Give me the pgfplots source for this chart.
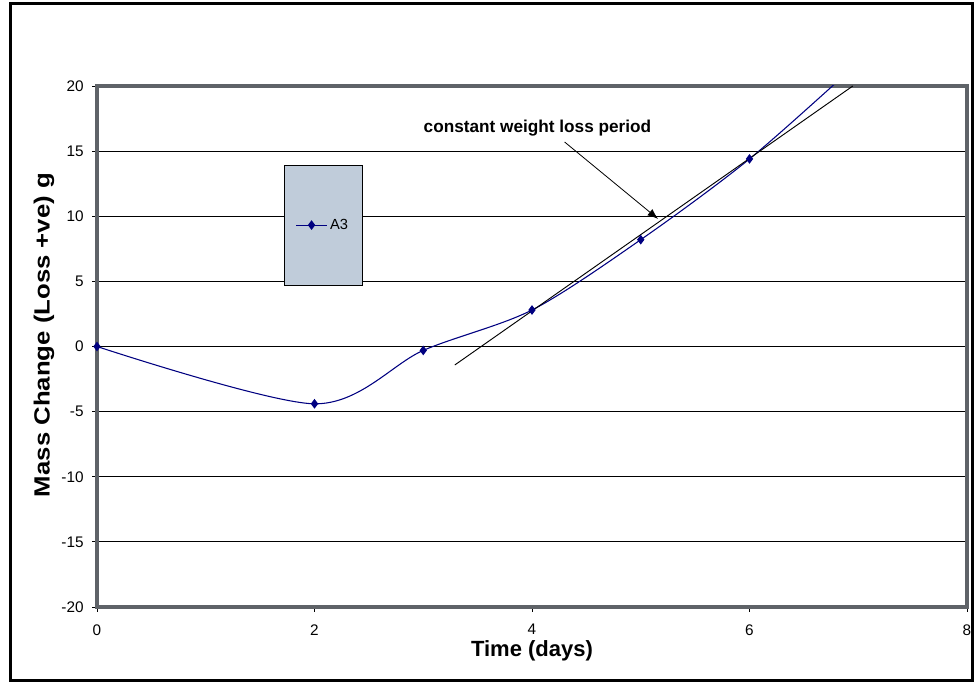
\documentclass[border=0pt]{standalone}
\usepackage{graphicx}
\usepackage{fontspec}
\setmainfont{Liberation Sans}
\usepackage{pgfplots}
\pgfplotsset{compat=1.18}
\usetikzlibrary{arrows.meta}
\definecolor{axgray}{RGB}{95,99,104}
\definecolor{navyline}{RGB}{0,0,128}
\definecolor{legfill}{RGB}{192,204,218}
\begin{document}
\begin{tikzpicture}
\useasboundingbox (0pt,0pt) rectangle (730.5pt,513pt);
\draw[line width=2.25pt] (7.5pt,2.25pt) rectangle (729pt,510pt);
\begin{axis}[
  at={(72.75pt,57.75pt)}, anchor=south west,
  scale only axis, width=652.5pt, height=390.75pt,
  xmin=0, xmax=8, ymin=-20, ymax=20,
  xtick={0,2,4,6,8}, ytick={-20,-15,...,20},
  xtick pos=bottom, ytick pos=left,
  tick align=outside, major tick length=3.5pt,
  tick style={black, line width=0.6pt},
  axis line style={axgray, line width=3pt},
  ymajorgrids, grid style={black, line width=0.7pt},
  /pgf/number format/assume math mode=true,
  tick label style={font=\fontsize{11.5}{13}\selectfont},
  xticklabel style={yshift=-6pt},
  yticklabel style={xshift=-3pt},
  xlabel={Time (days)},
  ylabel={\scalebox{1.17}[1]{Mass Change (Loss +ve) g}},
  label style={font=\bfseries\fontsize{16.5}{19}\selectfont},
  xlabel style={at={(axis description cs:0.5,-0.0845)}, anchor=center},
  ylabel style={at={(axis description cs:-0.061,0.522)}, anchor=center, rotate=0},
  legend style={at={(0.26,0.733)}, anchor=center, draw=none, fill=none,
    font=\fontsize{11}{13}\selectfont, inner sep=0pt, row sep=0pt},
  legend image code/.code={\draw[mark=none] (0pt,0pt) -- (23pt,0pt);
    \draw[mark indices={1}] plot coordinates {(11.5pt,0pt)};},
]
\draw[fill=legfill, draw=black, line width=0.6pt] (rel axis cs:0.2149,0.618) rectangle (rel axis cs:0.3046,0.848);
\addplot[navyline, line width=0.8pt, smooth, mark=diamond*, mark size=3pt, mark indices={1,2,3,4,5,6}]
  coordinates {(0,0) (2,-4.4) (3,-0.3) (4,2.8) (5,8.2) (6,14.4) (7,21.8)};
\addlegendentry{A3}
\addplot[black, line width=0.7pt, forget plot] coordinates {(3.29,-1.42) (6.95,20.0)};
\draw[-{Latex[length=8pt,width=6pt]}, line width=0.6pt] (axis cs:4.30,15.7) -- (axis cs:5.16,9.79);
\node[font=\bfseries\fontsize{12.9}{15}\selectfont] at (axis cs:4.05,16.78) {constant weight loss period};
\end{axis}
\end{tikzpicture}
\end{document}
